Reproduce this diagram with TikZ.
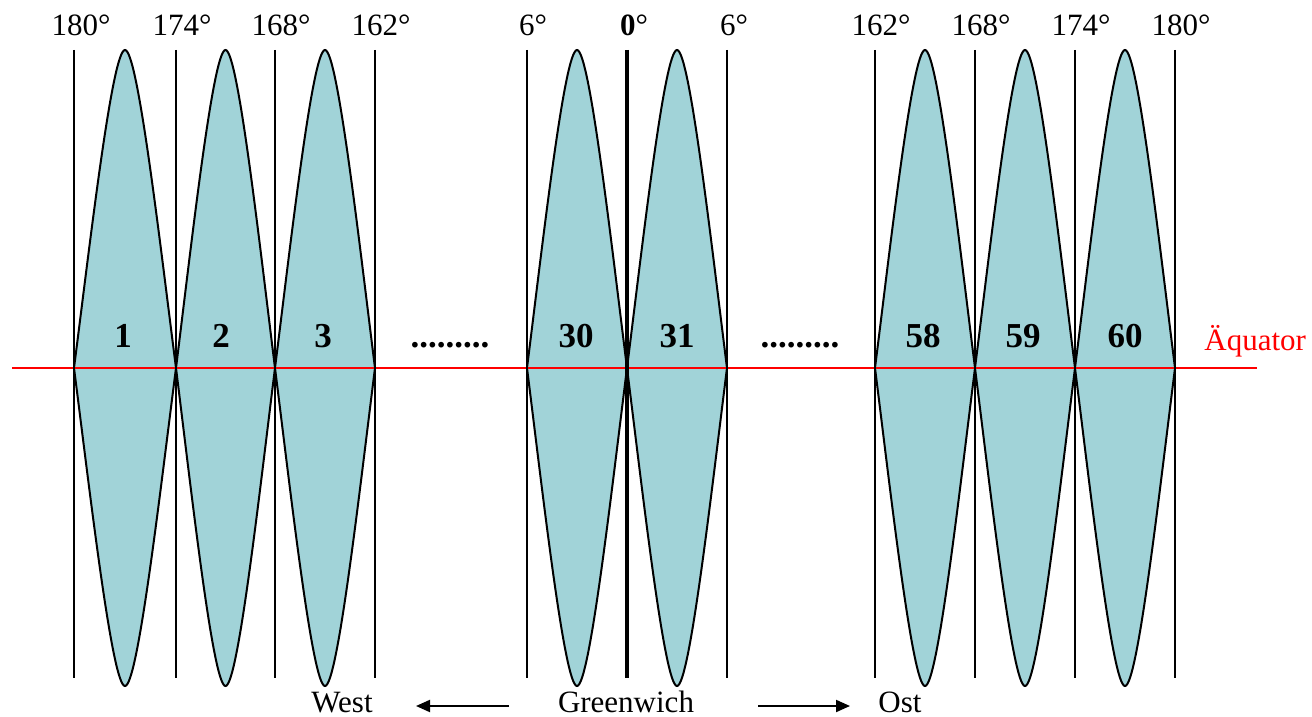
\documentclass[tikz,border=0pt]{standalone}
\usepackage{fontspec}
\setmainfont{Liberation Serif}
\usetikzlibrary{arrows.meta}
\definecolor{gorefill}{RGB}{161,211,216}
\begin{document}
\begin{tikzpicture}[x=0.5pt,y=-0.5pt,
  gore/.style={fill=gorefill,draw=black,line width=1pt},
  meridian/.style={draw=black,line width=1pt},
  degl/.style={anchor=base,inner sep=0pt,font=\fontsize{15.5}{18}\selectfont},
  zonel/.style={anchor=base,inner sep=0pt,font=\fontsize{17.5}{20}\selectfont\bfseries},
  botl/.style={anchor=base,inner sep=0pt,font=\fontsize{15.5}{18}\selectfont},
  arr/.style={line width=1pt,-{Triangle[length=7pt,width=6pt]}}]
\useasboundingbox (0,0) rectangle (1312,717);
% gores
\foreach \l/\r in {74/176,176/275,275/375,527/627,627/727,875/975,975/1075,1075/1175}{
  \pgfmathsetmacro\gc{(\l+\r)/2}
  \pgfmathsetmacro\gw{(\r-\l)/2}
  \filldraw[gore] (\gc,50) .. controls ({\gc+0.25*\gw},50) and ({\gc+0.68*\gw},240.8) .. (\r,368)
    .. controls ({\gc+0.68*\gw},495.2) and ({\gc+0.25*\gw},686) .. (\gc,686)
    .. controls ({\gc-0.25*\gw},686) and ({\gc-0.68*\gw},495.2) .. (\l,368)
    .. controls ({\gc-0.68*\gw},240.8) and ({\gc-0.25*\gw},50) .. cycle;
}
% equator
\draw[red,line width=1pt] (12,368) -- (1257,368);
% meridians
\foreach \x in {74,176,275,375,527,727,875,975,1075,1175}{
  \draw[meridian] (\x,50) -- (\x,678);
}
\draw[black,line width=2pt] (627,50) -- (627,678);
% degree labels
\node[degl] (d1) at (81,36) {180°};
\node[degl] (d2) at (182,36) {174°};
\node[degl] (d3) at (281,36) {168°};
\node[degl] (d4) at (381,36) {162°};
\node[degl] (d5) at (533,36) {6°};
\node[degl] (d6) at (634,36) {\textbf{0}°};
\node[degl] (d7) at (734,36) {6°};
\node[degl] (d8) at (881,36) {162°};
\node[degl] (d9) at (981,36) {168°};
\node[degl] (d10) at (1081,36) {174°};
\node[degl] (d11) at (1181,36) {180°};
% zone numbers
\node[zonel] (z1) at (123,347) {1};
\node[zonel] (z2) at (221,347) {2};
\node[zonel] (z3) at (323,347) {3};
\node[zonel] (dotsl) at (450,347) {.........};
\node[zonel] (z30) at (576,347) {30};
\node[zonel] (z31) at (677,347) {31};
\node[zonel] (dotsr) at (800,347) {.........};
\node[zonel] (z58) at (923,347) {58};
\node[zonel] (z59) at (1023,347) {59};
\node[zonel] (z60) at (1125,347) {60};
% equator label
\node[anchor=base west,inner sep=0pt,text=red,font=\fontsize{15.5}{18}\selectfont] (aeq) at (1204,350) {Äquator};
% bottom labels
\node[botl] (west) at (342,712) {West};
\node[botl] (gw) at (626,712) {Greenwich};
\node[botl] (ost) at (900,712) {Ost};
\coordinate (la) at (509,706);
\coordinate (lb) at (416,706);
\coordinate (ra) at (758,706);
\coordinate (rb) at (850,706);
\draw[arr] (la) -- (lb);
\draw[arr] (ra) -- (rb);
\end{tikzpicture}
\end{document}
